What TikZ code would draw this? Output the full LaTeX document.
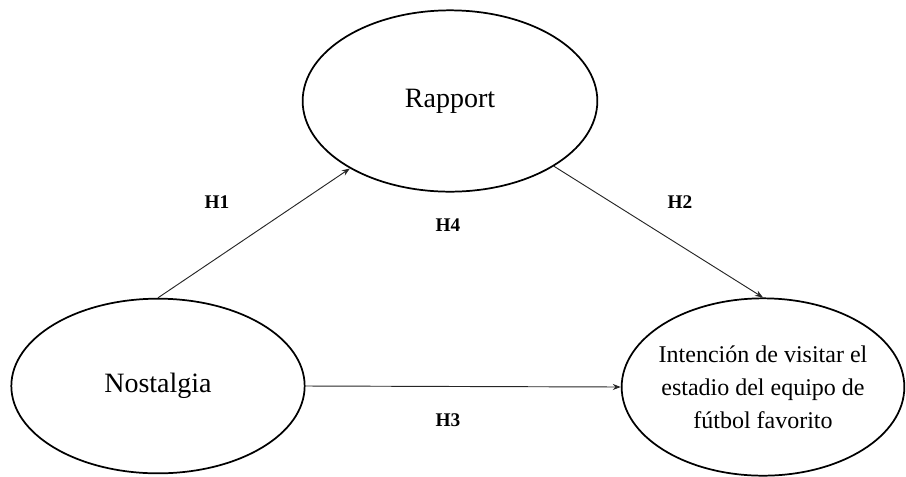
\documentclass[tikz,border=0pt]{standalone}
\usepackage{fontspec}
\setmainfont{Liberation Serif}
\usetikzlibrary{shapes.geometric}
\usetikzlibrary{arrows.meta}

\begin{document}
\begin{tikzpicture}[x=0.75pt,y=-0.75pt,
  latent/.style={draw,ellipse,line width=1.3pt,inner sep=0pt},
  path/.style={draw=black!85,line width=0.7pt,-{Stealth[length=6pt,width=4.5pt]}},
  hyp/.style={font=\fontsize{14.5}{17}\selectfont\bfseries}]
  \useasboundingbox (0,0) rectangle (906,476);

  \node[latent,minimum width=221pt,minimum height=136pt,
        font=\fontsize{21}{25}\selectfont] (rap) at (450,101) {Rapport};
  \node[latent,minimum width=220pt,minimum height=131pt,
        font=\fontsize{21}{25}\selectfont] (nos) at (158,386) {Nostalgia};
  \node[latent,minimum width=212pt,minimum height=133pt,align=center,
        inner xsep=-8pt,inner ysep=-8pt,
        font=\fontsize{18}{24.8}\selectfont] (int) at (763,387)
        {Intención de visitar el\\estadio del equipo de\\fútbol favorito};

  \draw[path] (nos.north) -- (rap);
  \draw[path] (rap) -- (int.north);
  \draw[path] (nos.east) -- (int.west);

  \node[hyp] (h1) at (217,202) {H1};
  \node[hyp] (h2) at (680,202) {H2};
  \node[hyp] (h3) at (448,420) {H3};
  \node[hyp] (h4) at (448,225) {H4};

\end{tikzpicture}
\end{document}
